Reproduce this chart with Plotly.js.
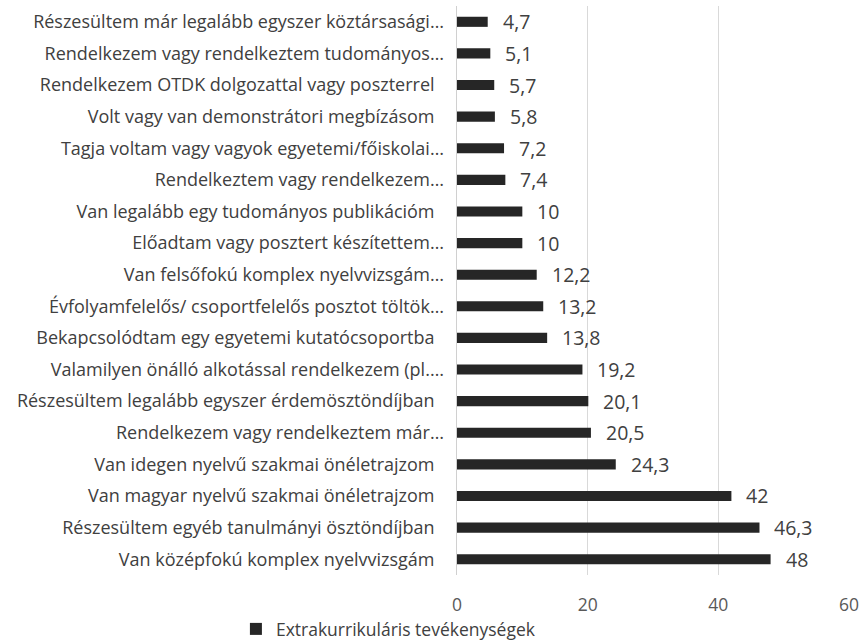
<!DOCTYPE html>
<html>
<head>
<meta charset="utf-8">
<script src="https://cdn.plot.ly/plotly-3.0.1.min.js"></script>
<style>html,body{margin:0;padding:0;background:#fff;}#chart{width:863px;height:640px;}</style>
</head>
<body>
<div id="chart"></div>
<script>
const categories = [
  "Részesültem már legalább egyszer köztársasági…",
  "Rendelkezem vagy rendelkeztem tudományos…",
  "Rendelkezem OTDK dolgozattal vagy poszterrel\u00a0\u00a0",
  "Volt vagy van demonstrátori megbízásom\u00a0\u00a0",
  "Tagja voltam vagy vagyok egyetemi/főiskolai…",
  "Rendelkeztem vagy rendelkezem…",
  "Van legalább egy tudományos publikációm\u00a0\u00a0",
  "Előadtam vagy posztert készítettem…",
  "Van felsőfokú komplex nyelvvizsgám…",
  "Évfolyamfelelős/ csoportfelelős posztot töltök…",
  "Bekapcsolódtam egy egyetemi kutatócsoportba\u00a0\u00a0",
  "Valamilyen önálló alkotással rendelkezem (pl.…",
  "Részesültem legalább egyszer érdemösztöndíjban\u00a0\u00a0",
  "Rendelkezem vagy rendelkeztem már…",
  "Van idegen nyelvű szakmai önéletrajzom\u00a0\u00a0",
  "Van magyar nyelvű szakmai önéletrajzom\u00a0\u00a0",
  "Részesültem egyéb tanulmányi ösztöndíjban\u00a0\u00a0",
  "Van középfokú komplex nyelvvizsgám\u00a0\u00a0"
];
const values = [4.7, 5.1, 5.7, 5.8, 7.2, 7.4, 10, 10, 12.2, 13.2, 13.8, 19.2, 20.1, 20.5, 24.3, 42, 46.3, 48];
const seriesName = "Extrakurrikuláris tevékenységek";
const xTicks = [0, 20, 40, 60];

const fontFam = "'Open Sans', sans-serif";
const labels = values.map(v => String(v).replace('.', ','));

const annotations = values.map((v, i) => ({
  x: v, y: categories[i], xref: 'x', yref: 'y',
  text: labels[i], showarrow: false, xanchor: 'left', yanchor: 'middle',
  xshift: 13, font: {family: fontFam, size: 19.5, color: '#404040'}
}));

const trace = {
  type: 'bar', orientation: 'h',
  x: values, y: categories, name: seriesName,
  marker: {color: '#262626', line: {width: 0}},
  hoverinfo: 'skip'
};

const layout = {
  width: 863, height: 640,
  margin: {l: 457, r: 14, t: 6, b: 65, autoexpand: false},
  paper_bgcolor: '#fff', plot_bgcolor: '#fff',
  bargap: 0.68,
  showlegend: true,
  legend: {orientation: 'h', x: -0.564, xanchor: 'left', y: -0.0633, yanchor: 'top',
           itemwidth: 30, tracegroupgap: 0, borderwidth: 0, bgcolor: 'rgba(0,0,0,0)',
           font: {family: fontFam, size: 17.5, color: '#404040'}},
  xaxis: {range: [0, 60], tickvals: xTicks, ticktext: xTicks.map(String),
          showgrid: true, gridcolor: '#d9d9d9', gridwidth: 1.5, zeroline: false,
          showline: false, ticks: 'outside', ticklen: 14, tickcolor: 'rgba(0,0,0,0)',
          tickfont: {family: fontFam, size: 17.5, color: '#595959'}, fixedrange: true},
  yaxis: {type: 'category', autorange: 'reversed', showgrid: false, zeroline: false,
          showline: true, linecolor: '#d0d0d0', linewidth: 1.5,
          ticks: 'outside', ticklen: 8, tickcolor: 'rgba(0,0,0,0)',
          tickfont: {family: fontFam, size: 18, color: '#404040'}, fixedrange: true},
  annotations: annotations
};

Plotly.newPlot('chart', [trace], layout, {displayModeBar: false, staticPlot: true});
</script>
</body>
</html>
